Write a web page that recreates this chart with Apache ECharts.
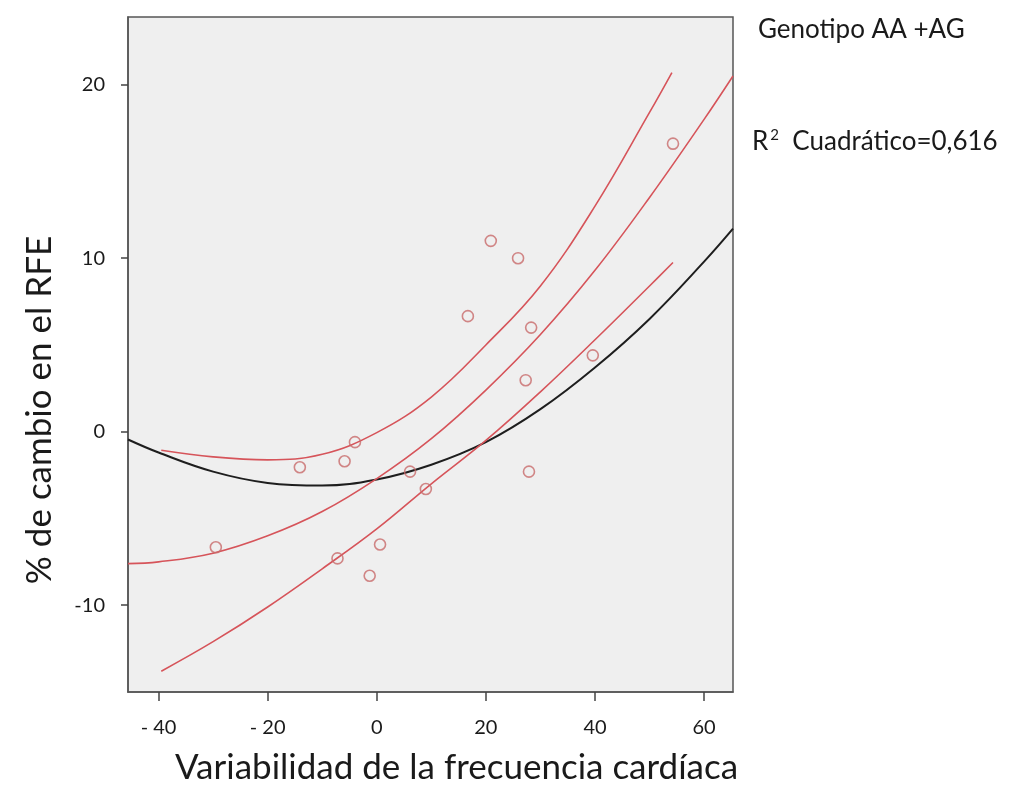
<!DOCTYPE html>
<html>
<head>
<meta charset="utf-8">
<script src="https://cdn.jsdelivr.net/npm/echarts@6/dist/echarts.min.js"></script>
<style>
html,body{margin:0;padding:0;background:#fff;}
#chart{width:1015px;height:788px;}
</style>
</head>
<body>
<div id="chart"></div>
<script>
// Observed points
const pointX = [-29.5, -14.1, -5.9, -4.0, -7.2, -1.3, 0.6, 6.1, 9.0, 16.7, 20.9, 25.9, 28.3, 27.3, 27.9, 39.6, 54.3];
const pointY = [-6.66, -2.05, -1.7, -0.6, -7.3, -8.3, -6.5, -2.3, -3.3, 6.66, 11.0, 10.0, 6.0, 2.97, -2.3, 4.4, 16.6];

// Black quadratic curve
const blackX = [-45.6, -40, -30, -20, -10, 0, 10, 20, 30, 40, 50, 60, 65.3];
const blackY = [-0.45, -1.2, -2.3, -2.95, -3.1, -2.75, -1.9, -0.6, 1.3, 3.7, 6.5, 9.8, 11.7];

// Red quadratic fit (middle)
const midX = [-45.6, -40, -30, -20, -10, 0, 10, 20, 30, 40, 50, 60, 65.3];
const midY = [-7.6, -7.5, -7.0, -6.0, -4.6, -2.7, -0.4, 2.4, 5.6, 9.3, 13.5, 18.0, 20.5];

// Red upper band
const upX = [-39.5, -30, -20, -10, 0, 10, 20, 30, 40, 50, 54.1];
const upY = [-1.07, -1.45, -1.62, -1.3, -0.05, 2.0, 5.0, 8.4, 13.0, 18.4, 20.7];

// Red lower band
const lowX = [-39.5, -30, -20, -10, 0, 10, 20, 30, 40, 50, 54.3];
const lowY = [-13.8, -12.1, -10.1, -7.9, -5.6, -3.0, -0.5, 2.3, 5.3, 8.4, 9.75];

// Tick labels
const xTicks = [-40, -20, 0, 20, 40, 60];
const yTicks = [-10, 0, 10, 20];

const zip = (xs, ys) => xs.map((x, i) => [x, ys[i]]);

const FONT = 'Lato';
const chart = echarts.init(document.getElementById('chart'));
const redLine = { color: '#d6545a', width: 1.6 };

chart.setOption({
  animation: false,
  backgroundColor: '#ffffff',
  textStyle: { fontFamily: FONT },
  grid: {
    left: 128, right: 282, top: 17, bottom: 96,
    show: true, backgroundColor: '#efefef', borderColor: '#555', borderWidth: 1.5
  },
  xAxis: {
    type: 'value', min: -45.6, max: 65.3,
    splitLine: { show: false },
    axisLine: { show: true, onZero: false, lineStyle: { color: '#555', width: 1.5 } },
    axisTick: { show: true, customValues: xTicks, length: 9, lineStyle: { color: '#444', width: 1.5 } },
    axisLabel: {
      customValues: xTicks, margin: 26, fontSize: 20, color: '#1a1a1a', fontFamily: FONT,
      formatter: v => (v < 0 ? '- ' + Math.abs(v) : String(v))
    }
  },
  yAxis: {
    type: 'value', min: -15, max: 23.9,
    splitLine: { show: false },
    axisLine: { show: true, onZero: false, lineStyle: { color: '#555', width: 1.5 } },
    axisTick: { show: true, customValues: yTicks, length: 7, lineStyle: { color: '#444', width: 1.5 } },
    axisLabel: { customValues: yTicks, margin: 23, fontSize: 20, color: '#1a1a1a', fontFamily: FONT }
  },
  graphic: [
    { type: 'text', left: 175, top: 750, style: { text: 'Variabilidad de la frecuencia cardíaca', font: '35px Lato', fill: '#1a1a1a' } },
    { type: 'text', x: 40, y: 410, rotation: Math.PI / 2, style: { text: '% de cambio en el RFE', font: '35px Lato', fill: '#1a1a1a', align: 'center', verticalAlign: 'middle' } },
    { type: 'text', left: 758, top: 17, style: { text: 'Genotipo AA +AG', font: '26px Lato', fill: '#1a1a1a' } },
    { type: 'text', left: 752, top: 128, style: {
        text: '{n|R}{s|2}{n|  Cuadrático=0,616}',
        rich: {
          n: { fontSize: 26, fontFamily: FONT, fill: '#1a1a1a', color: '#1a1a1a' },
          s: { fontSize: 15, fontFamily: FONT, fill: '#1a1a1a', color: '#1a1a1a', verticalAlign: 'top', padding: [0, 0, 12, 2] }
        }
      } }
  ],
  series: [
    { type: 'line', data: zip(blackX, blackY), smooth: 0.4, showSymbol: false, lineStyle: { color: '#1e1e1e', width: 2 }, z: 3 },
    { type: 'line', data: zip(midX, midY), smooth: 0.4, showSymbol: false, lineStyle: redLine, z: 3 },
    { type: 'line', data: zip(upX, upY), smooth: 0.4, showSymbol: false, lineStyle: redLine, z: 3 },
    { type: 'line', data: zip(lowX, lowY), smooth: 0.4, showSymbol: false, lineStyle: redLine, z: 3 },
    {
      type: 'scatter', data: zip(pointX, pointY), symbol: 'circle', symbolSize: 11,
      itemStyle: { color: 'rgba(0,0,0,0)', borderColor: '#c86a6a', borderWidth: 1.6 }, z: 4
    }
  ]
});
</script>
</body>
</html>
